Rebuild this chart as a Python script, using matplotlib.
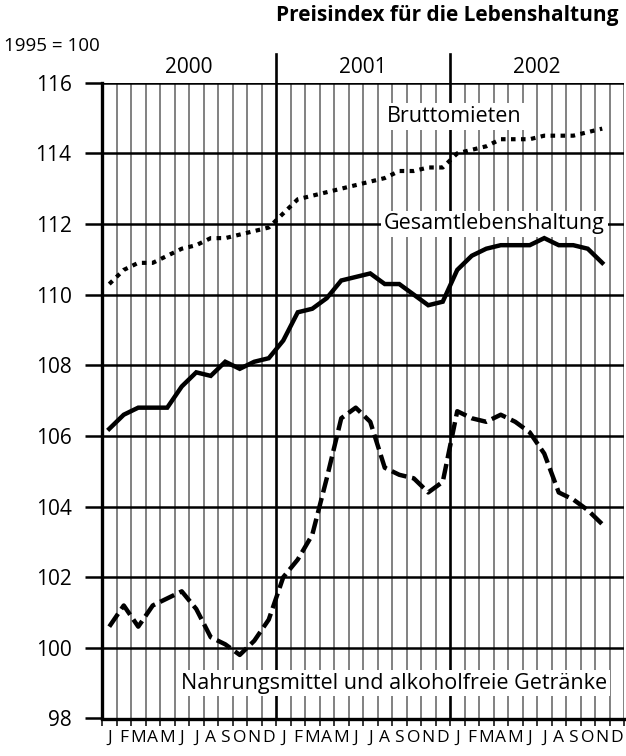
import numpy as np
import matplotlib
matplotlib.use('Agg')
import matplotlib.pyplot as plt

plt.rcParams['font.family'] = ['Open Sans', 'DejaVu Sans']

# Monatswerte Jan 2000 - Nov 2002, 1995 = 100
gesamt = [106.2, 106.6, 106.8, 106.8, 106.8, 107.4, 107.8, 107.7, 108.1, 107.9, 108.1, 108.2,
          108.7, 109.5, 109.6, 109.9, 110.4, 110.5, 110.6, 110.3, 110.3, 110.0, 109.7, 109.8,
          110.7, 111.1, 111.3, 111.4, 111.4, 111.4, 111.6, 111.4, 111.4, 111.3, 110.9]
brutto = [110.3, 110.7, 110.9, 110.9, 111.1, 111.3, 111.4, 111.6, 111.6, 111.7, 111.8, 111.9,
          112.3, 112.7, 112.8, 112.9, 113.0, 113.1, 113.2, 113.3, 113.5, 113.5, 113.6, 113.6,
          114.0, 114.1, 114.2, 114.4, 114.4, 114.4, 114.5, 114.5, 114.5, 114.6, 114.7]
nahrung = [100.6, 101.2, 100.6, 101.2, 101.4, 101.6, 101.1, 100.3, 100.1, 99.8, 100.2, 100.8,
           102.0, 102.5, 103.2, 104.8, 106.5, 106.8, 106.4, 105.1, 104.9, 104.8, 104.4, 104.7,
           106.7, 106.5, 106.4, 106.6, 106.4, 106.1, 105.5, 104.4, 104.2, 103.9, 103.5]
years = ['2000', '2001', '2002']
months = ['J', 'F', 'M', 'A', 'M', 'J', 'J', 'A', 'S', 'O', 'N', 'D']
yticks = [98, 100, 102, 104, 106, 108, 110, 112, 114, 116]

W, H = 626, 756
fig = plt.figure(figsize=(W / 100, H / 100), dpi=100)
ax = fig.add_axes([102 / W, (H - 718.5) / H, 522 / W, (718.5 - 82.7) / H])
ax.set_xlim(0, 36)
ax.set_ylim(98, 116)

# gitter
for m in range(1, 37):
    if m % 12 == 0 and m < 36:
        continue
    ax.axvline(m, color='#777777', lw=1.3, zorder=1)
for y in yticks[1:]:
    ax.axhline(y, color='black', lw=1.8, zorder=1.5)
for m in [12, 24]:
    ax.plot([m, m], [98, 116.8], color='black', lw=1.9, zorder=2, clip_on=False)

for s in ['top', 'right']:
    ax.spines[s].set_visible(False)
ax.spines['left'].set_linewidth(2.4)
ax.spines['bottom'].set_linewidth(2.4)

ax.set_yticks(yticks)
ax.set_yticklabels([str(v) for v in yticks], fontsize=15)
ax.tick_params(axis='y', length=12, width=1.8, pad=10)

ax.set_xticks(range(0, 37))
ax.set_xticklabels([])
ax.tick_params(axis='x', which='major', length=5, width=1.1, color='black')
ax.set_xticks(np.arange(36) + 0.5, minor=True)
ax.set_xticklabels(months * 3, minor=True, fontsize=12.5)
ax.tick_params(axis='x', which='minor', length=0, pad=8)

x = np.arange(len(gesamt)) + 0.5
ax.plot(x, brutto, color='black', lw=3.0, linestyle=(0, (1.1, 1.3)),
        dash_capstyle='butt', zorder=4)
ax.plot(x, gesamt, color='black', lw=3.2, solid_joinstyle='miter', zorder=4)
ax.plot(x, nahrung, color='black', lw=3.2, linestyle=(0, (3.5, 1.3)),
        dash_capstyle='butt', zorder=4)

box = dict(facecolor='white', edgecolor='none', pad=2)
ax.text(24.3, 115.04, 'Bruttomieten', fontsize=15.5, ha='center', va='center', bbox=box, zorder=3)
ax.text(27.07, 112.0, 'Gesamtlebenshaltung', fontsize=15.5, ha='center', va='center', bbox=box, zorder=3)
ax.text(20.14, 99.0, 'Nahrungsmittel und alkoholfreie Getränke', fontsize=15.5,
        ha='center', va='center', bbox=box, zorder=3)

for i, yr in enumerate(years):
    ax.text(12 * i + 6, 116.44, yr, fontsize=15, ha='center', va='center', clip_on=False)

fig.text(618 / W, 1 - 15 / H, 'Preisindex für die Lebenshaltung', fontsize=15,
         fontweight='bold', ha='right', va='center')
fig.text(4 / W, 1 - 46 / H, '1995 = 100', fontsize=13.5, ha='left', va='center')

fig.savefig('out.png', dpi=100)
